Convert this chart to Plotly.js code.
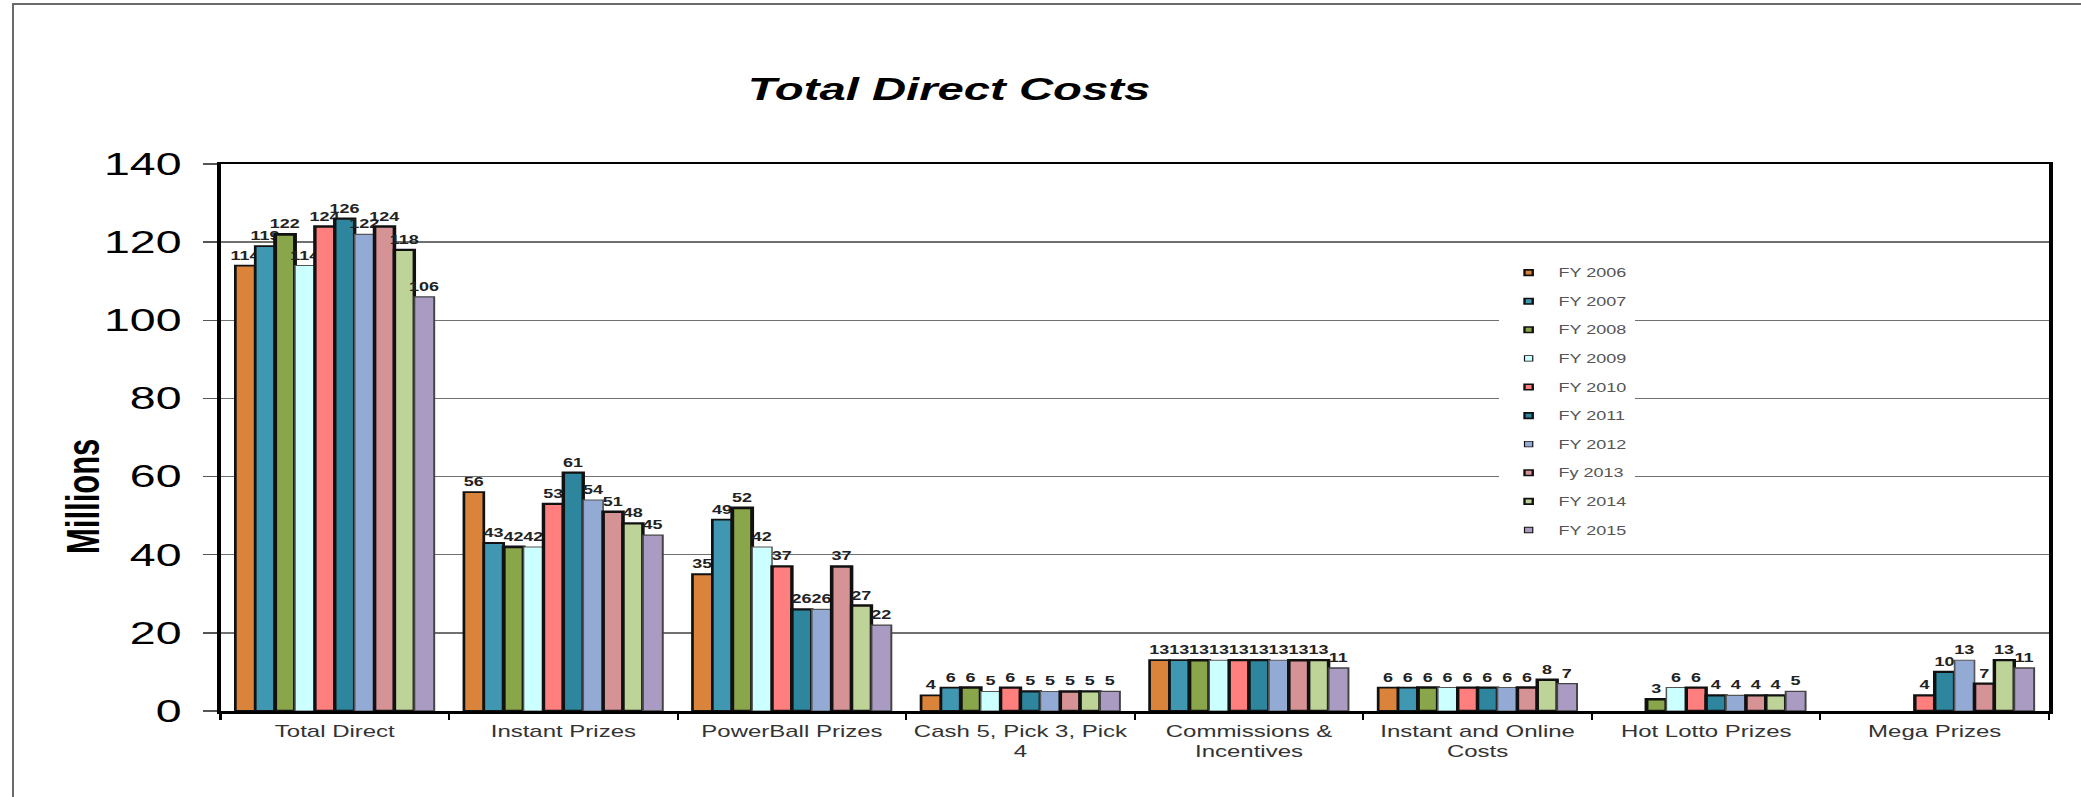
<!DOCTYPE html>
<html>
<head>
<meta charset="utf-8">
<script src="https://cdn.plot.ly/plotly-3.0.1.min.js"></script>
<style>
  html, body { margin: 0; padding: 0; background: #ffffff; }
  #wrap { position: absolute; left: 0; top: 0; width: 2081px; height: 797px; overflow: hidden; background: #fff; }
  #frame { position: absolute; left: 12px; top: 3px; width: 2075px; height: 800px;
           border-left: 2px solid #6a6a6a; border-top: 2px solid #6a6a6a; pointer-events: none; }
  #chart { position: absolute; left: 0; top: 0; width: 1387.33px; height: 797px;
           transform: scaleX(1.5); transform-origin: 0 0; }
</style>
</head>
<body>
<div id="wrap">
  <div id="chart"></div>
  <div id="frame"></div>
</div>
<script>
// ---- data (millions) ----
const categories = [
  'Total Direct',
  'Instant Prizes',
  'PowerBall Prizes',
  'Cash 5, Pick 3, Pick<br>4',
  'Commissions &<br>Incentives',
  'Instant and Online<br>Costs',
  'Hot Lotto Prizes',
  'Mega Prizes'
];
const seriesNames = ['FY 2006','FY 2007','FY 2008','FY 2009','FY 2010','FY 2011','FY 2012','Fy 2013','FY 2014','FY 2015'];

const fy2006 = [114, 56, 35, 4, 13, 6, null, null];
const fy2007 = [119, 43, 49, 6, 13, 6, null, null];
const fy2008 = [122, 42, 52, 6, 13, 6, 3, null];
const fy2009 = [114, 42, 42, 5, 13, 6, 6, null];
const fy2010 = [124, 53, 37, 6, 13, 6, 6, 4];
const fy2011 = [126, 61, 26, 5, 13, 6, 4, 10];
const fy2012 = [122, 54, 26, 5, 13, 6, 4, 13];
const fy2013 = [124, 51, 37, 5, 13, 6, 4, 7];
const fy2014 = [118, 48, 27, 5, 13, 8, 4, 13];
const fy2015 = [106, 45, 22, 5, 11, 7, 5, 11];

const yTickVals = [0, 20, 40, 60, 80, 100, 120, 140];

// ---- styles ----
const seriesValues = [fy2006, fy2007, fy2008, fy2009, fy2010, fy2011, fy2012, fy2013, fy2014, fy2015];
const colors = ['#DA833B','#3F97B1','#8AA64A','#CCFFFF','#FF7F7F','#2E859E','#93AAD4','#D59396','#BED398','#A99BC2'];
const lineWidths = [1.8, 1.8, 2.6, 1.0, 2.3, 2.3, 1.1, 2.4, 2.3, 1.3];
const lineColors = ['#111','#111','#111','#555','#111','#111','#555','#111','#111','#444'];

const FONT = 'Arial, "Liberation Sans", sans-serif';

const traces = [];
seriesValues.forEach((vals, i) => {
  traces.push({
    type: 'bar',
    name: seriesNames[i],
    x: categories,
    y: vals,
    text: vals.map(v => (v === null ? '' : String(v))),
    textposition: 'outside',
    textangle: 0,
    constraintext: 'none',
    cliponaxis: false,
    textfont: { family: FONT, size: 12, color: '#222', weight: 'bold' },
    marker: { color: colors[i], line: { color: lineColors[i], width: lineWidths[i] } },
    showlegend: false,
    hoverinfo: 'x+y+name'
  });
});
// legend entries (small square keys like the reference)
seriesNames.forEach((n, i) => {
  traces.push({
    type: 'scatter',
    mode: 'markers',
    name: n,
    x: [null],
    y: [null],
    legendgroup: 'g' + i,
    marker: { symbol: 'square', size: 5.5, color: colors[i], line: { color: '#111', width: lineWidths[i] > 1.5 ? 1.6 : 0.8 } },
    showlegend: true,
    hoverinfo: 'skip'
  });
});

const layout = {
  width: 1387.33,
  height: 797,
  margin: { l: 147.33, r: 20.67, t: 164, b: 86, pad: 0 },
  paper_bgcolor: '#ffffff',
  plot_bgcolor: '#ffffff',
  font: { family: FONT, color: '#000' },
  title: {
    text: 'Total Direct Costs',
    font: { family: FONT, size: 31.5, color: '#000', weight: 'bold', style: 'italic' },
    x: 0.456, xref: 'container', xanchor: 'center',
    y: 0.888, yref: 'container', yanchor: 'middle'
  },
  barmode: 'group',
  bargap: 0.13,
  bargroupgap: 0,
  xaxis: {
    type: 'category',
    categoryorder: 'array',
    categoryarray: categories,
    automargin: false,
    showline: true, linecolor: '#000', linewidth: 2.5, mirror: true,
    ticks: 'outside', tickson: 'boundaries', ticklen: 6, tickwidth: 1.4, tickcolor: '#000',
    tickangle: 0,
    ticklabelstandoff: 4,
    tickfont: { family: FONT, size: 16, color: '#333' },
    showgrid: false, zeroline: false,
    fixedrange: true
  },
  yaxis: {
    range: [0, 140],
    tickvals: yTickVals,
    ticktext: yTickVals.map(String),
    automargin: false,
    showline: true, linecolor: '#000', linewidth: 2.5, mirror: true,
    ticks: 'outside', ticklen: 9.3, tickwidth: 1.4, tickcolor: '#555',
    ticklabelstandoff: 8,
    tickfont: { family: FONT, size: 31, color: '#000' },
    showgrid: true, gridcolor: '#707070', gridwidth: 1.4,
    zeroline: false,
    fixedrange: true
  },
  legend: {
    x: 0.699, xref: 'paper', xanchor: 'left',
    y: 0.828, yref: 'paper', yanchor: 'top',
    bgcolor: '#ffffff', borderwidth: 0,
    traceorder: 'grouped',
    tracegroupgap: 9.6,
    font: { family: FONT, size: 12, color: '#555' }
  },
  annotations: [{
    text: '<b>Millions</b>',
    xref: 'paper', yref: 'paper',
    x: -0.0751, y: 0.392,
    xanchor: 'center', yanchor: 'middle',
    textangle: -90,
    showarrow: false,
    font: { family: FONT, size: 31, color: '#000' }
  }]
};

Plotly.newPlot('chart', traces, layout, { displayModeBar: false, staticPlot: true });
</script>
</body>
</html>
